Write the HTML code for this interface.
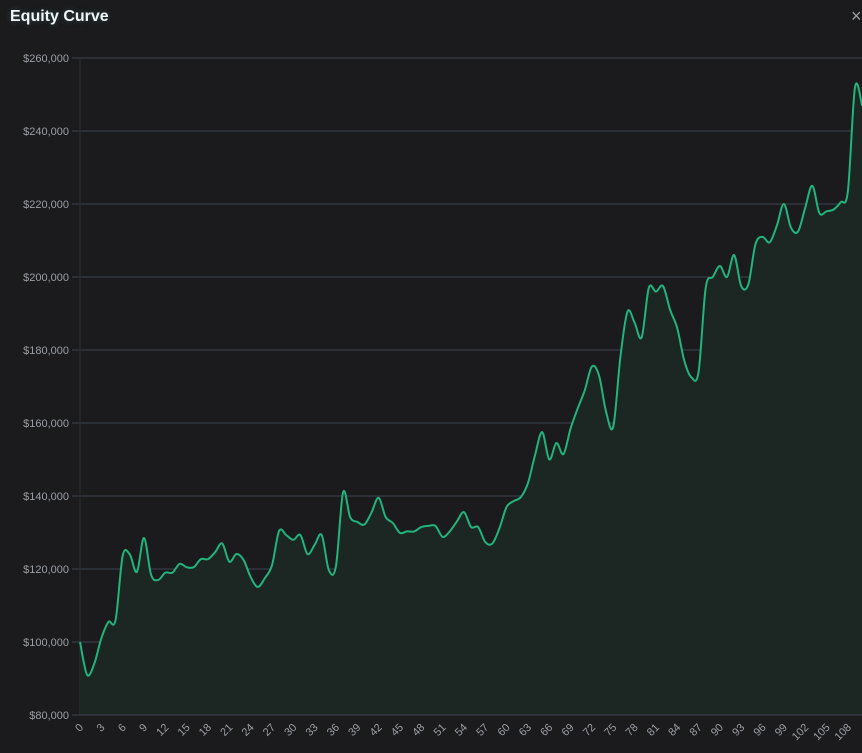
<!DOCTYPE html>
<html><head><meta charset="utf-8"><style>
html,body{margin:0;padding:0;background:#1b1b1d;width:862px;height:753px;overflow:hidden;font-family:"Liberation Sans",sans-serif}
#title{position:absolute;left:10px;top:8px;color:#f2f4f6;font-size:16px;font-weight:bold;text-shadow:0 0 6px rgba(80,160,170,0.35)}
#close{position:absolute;left:851px;top:6px;color:#9aa0a6;font-size:18px}
svg{position:absolute;left:0;top:0}
</style></head><body>
<div id="title">Equity Curve</div>
<div id="close">×</div>
<svg id="chart" width="862" height="753"></svg>
<script>
const equity = [100,91,94,101,105.5,106,123.6,124,119.2,128.5,118.4,117,119,119,121.4,120.5,120.5,122.7,122.7,124.6,127,122,124.1,122.5,117.8,115.1,117.5,121,130.4,129.3,128,129.3,124.1,126.6,129.3,119.7,120.8,141,134.2,132.9,132.2,135.5,139.5,134.2,132.6,129.9,130.3,130.3,131.5,131.8,131.8,128.8,130.3,133,135.6,131.5,131.5,127.4,127,131.2,137,138.6,139.7,143.5,151.2,157.5,150,154.5,151.5,158.5,164,169,175.5,173,163,159,178,190.5,187.5,183.5,197,196,197.5,191,186,177,172.5,174,197,200,203,200,206,197.5,198,209,211,209.5,214,220,213.5,212.5,219,225,217.5,218,218.5,220.5,223.5,252,247];
const yTicks = [80000,100000,120000,140000,160000,180000,200000,220000,240000,260000];
const xTickStep = 3;
const NS="http://www.w3.org/2000/svg";
const svg=document.getElementById('chart');
const X0=80, STEP=7.11, Y0=715, Y1=58, VMIN=80, VMAX=260;
const xs=i=>X0+i*STEP;
const ys=v=>Y0-(v-VMIN)/(VMAX-VMIN)*(Y0-Y1);
function mk(t,a){const e=document.createElementNS(NS,t);for(const k in a)e.setAttribute(k,a[k]);svg.appendChild(e);return e;}
yTicks.forEach(t=>{
  const y=ys(t/1000);
  const g=mk('line',{x1:72,x2:862,y1:y,y2:y,stroke:'#3e4550','stroke-width':1});
  
  
  const l=mk('text',{x:69,y:y+4,'text-anchor':'end',fill:'#9a9ea5','font-size':11,'font-family':'Liberation Sans, sans-serif'});
  l.textContent='$'+t.toLocaleString('en-US');
  
  
});
const ax=mk('line',{x1:X0,x2:X0,y1:Y1,y2:Y0,stroke:'#2c3036','stroke-width':1});


for(let i=0;i<equity.length;i+=xTickStep){
  if(i>108)break;
  const x=xs(i);
  const t=mk('text',{x:x+4,y:728,'text-anchor':'end',fill:'#9a9ea5','font-size':11,'font-family':'Liberation Sans, sans-serif',transform:`rotate(-45 ${x+4} 728)`});
  t.textContent=i;
  
  
}
const pts=equity.map((v,i)=>[xs(i),ys(v)]);
let d=`M${pts[0][0]},${pts[0][1]}`;
for(let i=0;i<pts.length-1;i++){
  const p0=pts[Math.max(0,i-1)],p1=pts[i],p2=pts[i+1],p3=pts[Math.min(pts.length-1,i+2)];
  const c1=[p1[0]+(p2[0]-p0[0])/6,p1[1]+(p2[1]-p0[1])/6];
  const c2=[p2[0]-(p3[0]-p1[0])/6,p2[1]-(p3[1]-p1[1])/6];
  d+=` C${c1[0]},${c1[1]} ${c2[0]},${c2[1]} ${p2[0]},${p2[1]}`;
}
const last=pts[pts.length-1];
const area=mk('path',{d:d+` L${last[0]},${Y0} L${X0},${Y0} Z`,fill:'#1c2724'});


const base=mk('line',{x1:72,x2:862,y1:Y0,y2:Y0,stroke:'#3e4550','stroke-width':1});


const line=mk('path',{d:d,fill:'none',stroke:'#21b47c','stroke-width':2,'stroke-linejoin':'round'});


</script>
</body></html>
